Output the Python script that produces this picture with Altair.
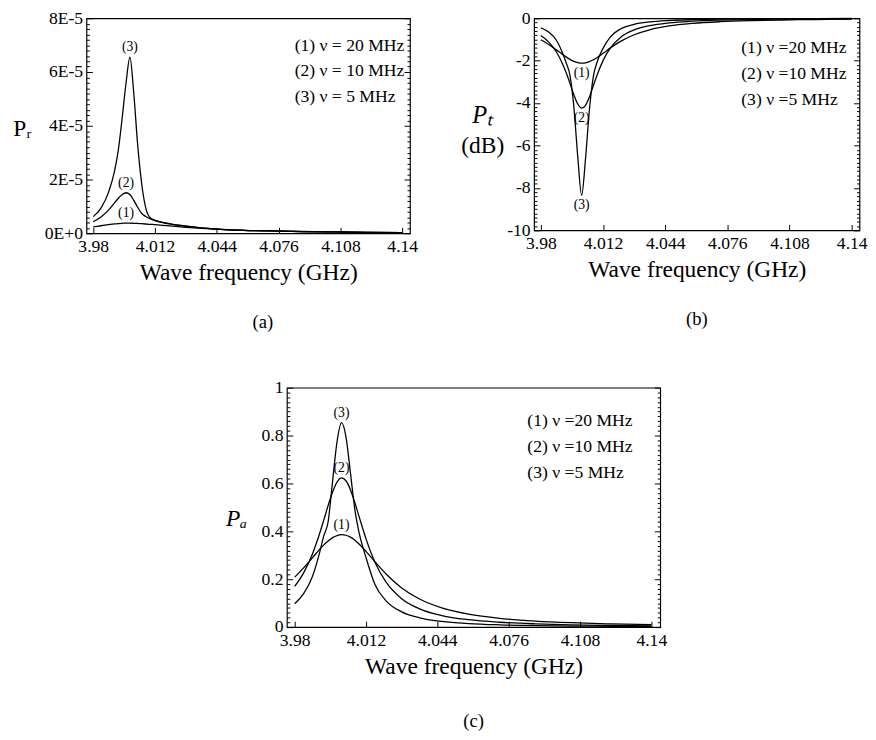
import altair as alt
import pandas as pd

# ---------------- data ----------------
FREQ = [3.98, 3.984, 3.988, 3.991, 3.993, 3.995, 3.997, 3.999, 4.001, 4.003,
        4.005, 4.007, 4.009, 4.012, 4.016, 4.021, 4.028, 4.036, 4.046, 4.058,
        4.072, 4.088, 4.104, 4.122, 4.14]

# (a) reflected power, in units of 1E-5
PR_UNIT = 1e-5
PR_20 = [0.24, 0.28, 0.32, 0.348, 0.362, 0.372, 0.378, 0.377, 0.372, 0.365,
         0.356, 0.345, 0.334, 0.318, 0.293, 0.262, 0.222, 0.185, 0.145, 0.11,
         0.087, 0.064, 0.049, 0.034, 0.024]
PR_10 = [0.431, 0.608, 0.873, 1.128, 1.302, 1.441, 1.508, 1.444, 1.227, 0.970,
         0.745, 0.63, 0.55, 0.47, 0.41, 0.335, 0.268, 0.203, 0.147, 0.112,
         0.089, 0.066, 0.051, 0.036, 0.026]
PR_5 = [0.619, 0.936, 1.54, 2.3, 3.1, 4.3, 5.6, 6.55, 5.2, 3.3,
        1.9, 1.0, 0.62, 0.48, 0.40, 0.33, 0.265, 0.20, 0.145, 0.11,
        0.088, 0.065, 0.05, 0.035, 0.025]

# (b) transmitted power (dB)
PT_20 = [-1.016, -1.236, -1.490, -1.691, -1.821, -1.937, -2.031, -2.093, -2.118, -2.102,
         -2.047, -1.959, -1.846, -1.652, -1.385, -1.088, -0.776, -0.542, -0.364, -0.243,
         -0.163, -0.111, -0.081, -0.059, -0.045]
PT_10 = [-0.811, -1.115, -1.591, -2.117, -2.561, -3.077, -3.608, -4.042, -4.235, -4.104,
         -3.707, -3.184, -2.661, -1.997, -1.374, -0.903, -0.549, -0.345, -0.215, -0.137,
         -0.089, -0.060, -0.043, -0.031, -0.024]
PT_5 = [-0.445, -0.652, -1.038, -1.60, -2.10, -2.70, -4.20, -6.55, -8.35, -6.60,
        -4.30, -2.75, -2.05, -1.42, -0.852, -0.505, -0.285, -0.172, -0.105, -0.066,
        -0.042, -0.028, -0.020, -0.015, -0.011]

# (c) absorbed power
PA_20 = [0.2086, 0.2476, 0.2904, 0.3225, 0.3425, 0.3599, 0.3736, 0.3825, 0.386, 0.3837,
         0.3758, 0.3630, 0.3462, 0.3164, 0.2730, 0.2217, 0.1637, 0.1174, 0.0805, 0.0544,
         0.0368, 0.0253, 0.0184, 0.0135, 0.0103]
PA_10 = [0.1703, 0.2265, 0.3067, 0.3858, 0.4456, 0.5077, 0.5643, 0.6057, 0.6229, 0.6113,
         0.5741, 0.5196, 0.4581, 0.3686, 0.2713, 0.1877, 0.1187, 0.0763, 0.0484, 0.0310,
         0.0203, 0.0137, 0.0098, 0.0071, 0.0054]
PA_5 = [0.0973, 0.1395, 0.2126, 0.305, 0.38, 0.44, 0.61, 0.775, 0.854, 0.795,
        0.645, 0.49, 0.39, 0.29, 0.1782, 0.1097, 0.0636, 0.0389, 0.0239, 0.0150,
        0.0097, 0.0065, 0.0046, 0.0034, 0.0026]

KEYS = ["(1)", "(2)", "(3)"]
LEGEND_A = ["(1)  \u03bd = 20 MHz", "(2)  \u03bd = 10 MHz", "(3)  \u03bd = 5 MHz"]
LEGEND_BC = ["(1)  \u03bd =20 MHz", "(2)  \u03bd =10 MHz", "(3)  \u03bd =5 MHz"]

X_DOMAIN = [3.9765, 4.144]
X_TICKS = [3.98, 4.012, 4.044, 4.076, 4.108, 4.14]

PR_DOMAIN = [0, 8e-5]
PR_TICKS = [0, 2e-5, 4e-5, 6e-5, 8e-5]
PR_MINOR = [k * 0.2e-5 for k in range(41)]

PT_DOMAIN = [-10, 0]
PT_TICKS = [-10, -8, -6, -4, -2, 0]
PT_MINOR = [round(-10 + 0.2 * k, 6) for k in range(51)]

PA_DOMAIN = [0, 1]
PA_TICKS = [0, 0.2, 0.4, 0.6, 0.8, 1]
PA_MINOR = [round(0.02 * k, 6) for k in range(51)]

SERIF = "Liberation Serif, Times New Roman, serif"


def frame(curves, legend, unit=1.0):
    rows = []
    for key, lab, vals in zip(KEYS, legend, curves):
        for f, v in zip(FREQ, vals):
            rows.append({"f": f, "v": v * unit, "key": key, "lab": lab})
    return pd.DataFrame(rows)


def panel(df, ydom, ymajor, yminor, major_test, label_expr, W, H,
          ytitle, ytitle_style, ytitle_x, ytitle_y, legend_xy, caption,
          caption_dx, caption_offset, peak, extra_title=None):
    xs = alt.Scale(domain=X_DOMAIN, nice=False, zero=False)
    ys = alt.Scale(domain=ydom, nice=False, zero=False)
    base = alt.Chart(df)
    tick_cond = {"condition": {"test": major_test, "value": 6}, "value": 3}
    fonts = dict(labelFont=SERIF, titleFont=SERIF, labelColor="black",
                 titleColor="black", titleFontWeight="normal")

    lines = base.mark_line(color="black", strokeWidth=1.3, interpolate="monotone").encode(
        x=alt.X("f:Q", scale=xs, axis=alt.Axis(
            values=X_TICKS, labelExpr="'' + datum.value", ticks=False, domain=False,
            grid=False, title="Wave frequency (GHz)", labelFontSize=18, titleFontSize=24,
            labelPadding=5, titlePadding=5, labelFlush=False, labelOverlap=False,
            **fonts)),
        y=alt.Y("v:Q", scale=ys, axis=alt.Axis(
            values=ymajor, labelExpr=label_expr, ticks=False, domain=False, grid=False,
            labelFontSize=18, labelPadding=4, labelOverlap=False, labelFlush=False,
            title=ytitle, titleAngle=0, titleX=ytitle_x, titleY=ytitle_y,
            titleAlign="center", titleBaseline="middle", titleFontSize=24,
            titleFontStyle=ytitle_style, **fonts)),
        color=alt.Color("lab:N", scale=alt.Scale(range=["black", "black", "black"]),
                        legend=alt.Legend(title=None, orient="none",
                                          legendX=legend_xy[0], legendY=legend_xy[1],
                                          labelFont=SERIF, labelFontSize=18,
                                          labelColor="black",
                                          symbolSize=0, symbolOpacity=0,
                                          symbolStrokeWidth=0, labelOffset=0,
                                          rowPadding=8.5, padding=0, labelLimit=0)),
        detail="key:N",
    )

    ticks_a = base.mark_line(opacity=0).encode(
        x=alt.X("f:Q", scale=xs, axis=alt.Axis(
            orient="top", offset=-H, values=X_TICKS, labels=False, domain=False,
            grid=False, ticks=True, tickSize=6, tickColor="black", title=None)),
        y=alt.Y("v:Q", scale=ys, axis=alt.Axis(
            orient="right", offset=-W, values=yminor, labels=False, domain=False,
            grid=False, ticks=True, tickSize=tick_cond, tickColor="black", title=None)),
        detail="key:N",
    )

    right_axis = dict(orient="left", offset=-W, values=yminor, labels=False,
                      domain=False, grid=False, ticks=True, tickSize=tick_cond,
                      tickColor="black")
    if extra_title is not None:
        right_axis.update(title=extra_title[0], titleAngle=0,
                          titleX=extra_title[1] - W, titleY=extra_title[2],
                          titleAlign="center", titleBaseline="middle",
                          titleFontSize=25, titleFontStyle="italic",
                          titleFont=SERIF, titleColor="black",
                          titleFontWeight="normal")
    else:
        right_axis.update(title=None)
    ticks_b = base.mark_line(opacity=0).encode(
        x=alt.X("f:Q", scale=xs, axis=None),
        y=alt.Y("v:Q", scale=ys, axis=alt.Axis(**right_axis)),
        detail="key:N",
    )

    if peak == "max":
        pk = df.loc[df.groupby("key")["v"].idxmax()]
        tmark = dict(baseline="bottom", dy=-3)
    else:
        pk = df.loc[df.groupby("key")["v"].idxmin()]
        tmark = dict(baseline="top", dy=3)
    labels = alt.Chart(pk).mark_text(font=SERIF, fontSize=14, color="black", **tmark).encode(
        x=alt.X("f:Q", scale=xs, axis=None),
        y=alt.Y("v:Q", scale=ys, axis=None),
        text="key:N",
    )

    return alt.layer(lines, ticks_a, ticks_b, labels).resolve_axis(
        x="independent", y="independent"
    ).properties(
        width=W, height=H,
        title=alt.Title(caption, orient="bottom", offset=caption_offset, dx=caption_dx,
                        font=SERIF, fontSize=19, fontWeight="normal", color="black"),
    )


df_a = frame([PR_20, PR_10, PR_5], LEGEND_A, PR_UNIT)
df_b = frame([PT_20, PT_10, PT_5], LEGEND_BC)
df_c = frame([PA_20, PA_10, PA_5], LEGEND_BC)

pa = panel(df_a, PR_DOMAIN, PR_TICKS, PR_MINOR,
           "abs(datum.value * 50000 - round(datum.value * 50000)) < 0.01",
           "datum.value == 0 ? '0E+0' : round(datum.value * 100000) + 'E-5'",
           331, 220, "P\u1d63", "normal", -66, 113, (195, 19), "(a)", 15, 30, "max")

pb = panel(df_b, PT_DOMAIN, PT_TICKS, PT_MINOR,
           "abs(datum.value / 2 - round(datum.value / 2)) < 0.01",
           "'' + datum.value",
           333, 217, "(dB)", "normal", -53, 130, (194, 22), "(b)", 0, 30, "min",
           extra_title=("P\u209c", -53, 99))

pc = panel(df_c, PA_DOMAIN, PA_TICKS, PA_MINOR,
           "abs(datum.value * 5 - round(datum.value * 5)) < 0.01",
           "'' + datum.value",
           382, 245, "P\u2090", "italic", -52, 134, (228, 25), "(c)", 0, 35, "max")

row = alt.hconcat(pa, pb, spacing=42).resolve_scale(color="independent")
chart = alt.vconcat(row, pc, spacing=46, center=True).resolve_scale(
    color="independent"
).properties(
    padding={"left": 4, "top": -8, "right": 0, "bottom": 0}
).configure_axis(
    labelFont=SERIF, titleFont=SERIF, labelColor="black", titleColor="black",
    titleFontWeight="normal",
).configure_view(
    stroke="black", strokeWidth=1.2
).configure_legend(
    labelColor="black", labelFont=SERIF
).configure_text(
    font=SERIF
)

chart.save("out.html", embed_options={"renderer": "svg", "actions": False})
